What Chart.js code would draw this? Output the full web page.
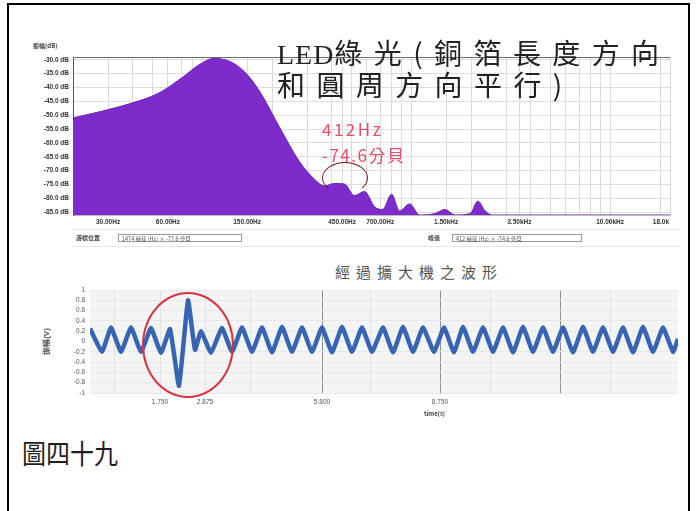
<!DOCTYPE html>
<html>
<head>
<meta charset="utf-8">
<script src="https://cdn.jsdelivr.net/npm/chart.js@4.4.1/dist/chart.umd.min.js"></script>
<style>
  html, body { margin: 0; padding: 0; background: #fff; }
  body { width: 696px; height: 511px; position: relative; overflow: hidden;
         font-family: "Noto Sans CJK TC", "Noto Sans", sans-serif; }
  .a { position: absolute; white-space: nowrap; }
  .rule { position: absolute; background: #000; }
  canvas { position: absolute; }
  .tiny { font-size: 6px; color: #444; font-weight: bold; }
  .box { position: absolute; border: 1px solid #9a9a9a; height: 8px; font-size: 5.5px; line-height: 8px;
         color: #555; padding-left: 3px; box-sizing: border-box; white-space: nowrap; }
</style>
</head>
<body>

<!-- table cell frame -->
<div class="rule" style="left:7px; top:3px; width:683px; height:2px;"></div>
<div class="rule" style="left:7px; top:3px; width:2px; height:508px;"></div>
<div class="rule" style="left:688px; top:3px; width:2px; height:508px;"></div>

<!-- spectrum -->
<canvas id="spec" width="662" height="200" style="left:22px; top:36px;"></canvas>
<div class="a tiny" style="left:33px; top:41px;">振幅(dB)</div>

<div class="a" style="left:277px; top:35px; font-size:28px; line-height:34px; color:#222;">
  <span style="font-family:'Liberation Serif',serif; letter-spacing:1px;">LED</span><span style="letter-spacing:11.4px; font-family:'Noto Sans CJK TC';">綠光(銅箔長度方向</span>
</div>
<div class="a" style="left:277px; top:67px; font-size:28px; line-height:34px; color:#222; letter-spacing:11.4px;">和圓周方向平行)</div>

<div class="a" style="left:322px; top:116px; font-size:17px; color:#e4506b; letter-spacing:2.5px;">412Hz</div>
<div class="a" style="left:322px; top:142px; font-size:17px; color:#e4506b; letter-spacing:1.5px;">-74.6分貝</div>
<div class="a" style="left:322px; top:162px; width:46px; height:32px; border:1.5px solid #7d1c22; border-radius:50%; box-sizing:border-box; border-bottom-color:transparent;"></div>

<!-- cursor readout row -->
<div class="a" style="left:73px; top:229px; width:607px; height:1px; background:#e2e2e2;"></div>
<div class="a tiny" style="left:76px; top:233px;">游標位置</div>
<div class="box" style="left:118px; top:234px; width:124px;">1474 赫茲 (Hz) × -77.6 分貝</div>
<div class="a tiny" style="left:428px; top:233px;">峰值</div>
<div class="box" style="left:452px; top:234px; width:130px;">412 赫茲 (Hz) × -74.6 分貝</div>
<div class="a" style="left:73px; top:246px; width:607px; height:1px; background:#e6e6e6;"></div>

<!-- waveform -->
<div class="a" style="left:335px; top:261px; font-size:15px; color:#555; letter-spacing:6px;">經過擴大機之波形</div>
<canvas id="wave" width="656" height="145" style="left:30px; top:280px;"></canvas>
<div class="a tiny" style="left:424px; top:409px;">time(s)</div>
<div class="a" style="left:142px; top:292px; width:92px; height:106px; border:2px solid #d9323f; border-radius:50%; box-sizing:border-box;"></div>

<!-- caption -->
<div class="a" style="left:22px; top:432px; font-size:24px; color:#1e1e1e; transform:scaleY(1.15); transform-origin:top left;">圖四十九</div>

<script>
// ---- spectrum of the green LED signal (frequency in Hz, level in dB) ----
const specFreqHz  = [20, 27, 38, 54, 72, 86, 102, 121, 144, 172, 217, 274, 326, 367, 412, 462,
                     519, 583, 655, 720, 798, 875, 984, 1104, 1316, 1478, 1660, 1978, 2168, 2354, 2553, 20000];
const specLevelDb = [-51, -48.8, -46, -42, -36, -31.8, -29.5, -30.4, -34, -41, -54, -66.6, -73, -75.5, -74.6, -74.8,
                     -79, -77.5, -83, -84, -78.5, -84.5, -82, -86, -85.5, -84, -86, -85.5, -81, -84.5, -86, -86];
const specTickDb  = [-30, -35, -40, -45, -50, -55, -60, -65, -70, -75, -80, -85];
const specGridHz  = [20, 30, 40, 50, 60, 70, 80, 90, 100, 150, 200, 300, 400, 450, 500, 600, 700, 800, 900,
                     1000, 1500, 2000, 3000, 3500, 4000, 5000, 6000, 7000, 8000, 9000, 10000, 18000, 20000];
const specTickHz  = [30, 60, 150, 450, 700, 1500, 3500, 10000, 18000];
const specTickHzLabels = ['30.00Hz', '60.00Hz', '150.00Hz', '450.00Hz', '700.00Hz',
                          '1.50kHz', '3.50kHz', '10.00kHz', '18.0k'];

// ---- amplifier output waveform (time in s, amplitude in V) ----
const waveTimeS = [0, 0.3, 0.525, 0.775, 1.025, 1.275, 1.525, 1.775, 2.0, 2.225, 2.45, 2.625, 2.775,
                   3.025, 3.3, 3.55, 3.8, 4.05, 4.3, 4.55, 4.8, 5.05, 5.3, 5.55, 5.8, 6.05, 6.3, 6.55,
                   6.8, 7.05, 7.325, 7.575, 7.825, 8.075, 8.325, 8.6, 8.85, 9.1, 9.325, 9.575, 9.825,
                   10.075, 10.325, 10.575, 10.825, 11.075, 11.325, 11.575, 11.825, 12.075, 12.325,
                   12.575, 12.825, 13.075, 13.325, 13.575, 13.825, 14.075, 14.325, 14.575, 14.7];
const waveVolt  = [0.25, -0.2, 0.27, -0.2, 0.27, -0.2, 0.26, -0.22, 0.24, -0.86, 0.8, -0.16, 0.2,
                   -0.22, 0.26, -0.2, 0.27, -0.2, 0.27, -0.21, 0.28, -0.2, 0.27, -0.2, 0.27, -0.21, 0.28, -0.2,
                   0.27, -0.2, 0.27, -0.21, 0.28, -0.2, 0.27, -0.2, 0.27, -0.21, 0.28, -0.2, 0.27,
                   -0.2, 0.27, -0.21, 0.28, -0.2, 0.27, -0.2, 0.27, -0.21, 0.28,
                   -0.2, 0.27, -0.2, 0.27, -0.21, 0.28, -0.2, 0.27, -0.2, 0.05];
const waveTickVolt = [1, 0.8, 0.6, 0.4, 0.2, 0, -0.2, -0.4, -0.6, -0.8, -1];
const waveTickS    = [1.75, 2.875, 5.8, 8.75];
const waveGridS    = [0.6, 1.75, 2.875, 4.0, 5.8, 7.0, 8.75, 10.0, 11.75, 13.0];
const waveMajorS   = [5.8, 8.75, 11.75];

// frame line along the top of a plot
const topEdge = {
  id: 'topEdge',
  afterDraw(chart, args, opts) {
    const { ctx, chartArea: a } = chart;
    ctx.save();
    ctx.strokeStyle = opts.color || '#666';
    ctx.lineWidth = 1;
    ctx.beginPath();
    ctx.moveTo(a.left, a.top + 0.5);
    ctx.lineTo(a.right, a.top + 0.5);
    ctx.stroke();
    ctx.restore();
  }
};

// plot background fill
const plotBg = {
  id: 'plotBg',
  beforeDraw(chart, args, opts) {
    const { ctx, chartArea: a } = chart;
    ctx.save();
    ctx.fillStyle = opts.color || '#fff';
    ctx.fillRect(a.left, a.top, a.right - a.left, a.bottom - a.top);
    ctx.restore();
  }
};

new Chart(document.getElementById('spec'), {
  type: 'line',
  data: {
    datasets: [{
      data: specFreqHz.map((f, i) => ({ x: f, y: specLevelDb[i] })),
      fill: 'start',
      backgroundColor: '#7d2ccb',
      borderColor: '#6a21b2',
      borderWidth: 1,
      pointRadius: 0,
      cubicInterpolationMode: 'monotone'
    }]
  },
  options: {
    responsive: false,
    animation: false,
    layout: { padding: { top: 21, right: 14, left: 0, bottom: 0 } },
    plugins: { legend: { display: false }, tooltip: { enabled: false }, topEdge: { color: '#6f6f6f' } },
    scales: {
      x: {
        type: 'logarithmic', min: 20, max: 20000,
        afterBuildTicks: s => { s.ticks = specGridHz.map(v => ({ value: v })); },
        afterFit: s => { s.height = 21; },
        ticks: {
          autoSkip: false, maxRotation: 0, padding: 3, color: '#333',
          font: { size: 6.5, weight: 'bold' },
          callback: v => { const i = specTickHz.indexOf(v); return i < 0 ? '' : specTickHzLabels[i]; }
        },
        grid: { color: '#d9d9d9', drawTicks: false },
        border: { color: '#bbb' }
      },
      y: {
        min: -86, max: -29,
        afterBuildTicks: s => { s.ticks = specTickDb.map(v => ({ value: v })); },
        afterFit: s => { s.width = 51; },
        ticks: {
          autoSkip: false, padding: 4, color: '#333', font: { size: 6.5, weight: 'bold' },
          callback: v => v.toFixed(1) + ' dB'
        },
        grid: { color: '#dedede', drawTicks: false },
        border: { color: '#555' }
      }
    }
  },
  plugins: [topEdge]
});

const wavePts = waveTimeS.map((t, i) => ({ x: t, y: waveVolt[i] }));

new Chart(document.getElementById('wave'), {
  type: 'line',
  data: {
    datasets: [
      { data: wavePts, borderColor: '#3565b3', borderWidth: 4.5, pointRadius: 0, tension: 0.12 },
      { data: wavePts, borderColor: '#5ec3e8', borderWidth: 1.2, pointRadius: 0, tension: 0.12 }
    ]
  },
  options: {
    responsive: false,
    animation: false,
    layout: { padding: { top: 10, right: 8, left: 12, bottom: 0 } },
    plugins: { legend: { display: false }, tooltip: { enabled: false }, plotBg: { color: '#f4f4f4' } },
    scales: {
      x: {
        type: 'linear', min: 0, max: 14.7,
        afterBuildTicks: s => { s.ticks = waveGridS.map(v => ({ value: v })); },
        afterFit: s => { s.height = 32; },
        ticks: {
          autoSkip: false, maxRotation: 0, padding: 5, color: '#555', font: { size: 6.5 },
          callback: v => waveTickS.includes(v) ? v.toFixed(3) : ''
        },
        grid: {
          drawTicks: false,
          color: c => waveMajorS.includes(c.tick.value) ? '#8f8f8f' : '#e0e0e0'
        },
        border: { display: false }
      },
      y: {
        min: -1, max: 1,
        afterBuildTicks: s => { s.ticks = waveTickVolt.map(v => ({ value: v })); },
        afterFit: s => { s.width = 48; },
        ticks: { autoSkip: false, padding: 5, color: '#555', font: { size: 6.5 }, callback: v => String(v) },
        grid: { color: '#e8e8e8', drawTicks: false },
        border: { display: false },
        title: { display: true, text: '振幅(V)', color: '#555', font: { size: 8, weight: 'bold' }, padding: 0 }
      }
    }
  },
  plugins: [plotBg]
});
</script>
</body>
</html>
